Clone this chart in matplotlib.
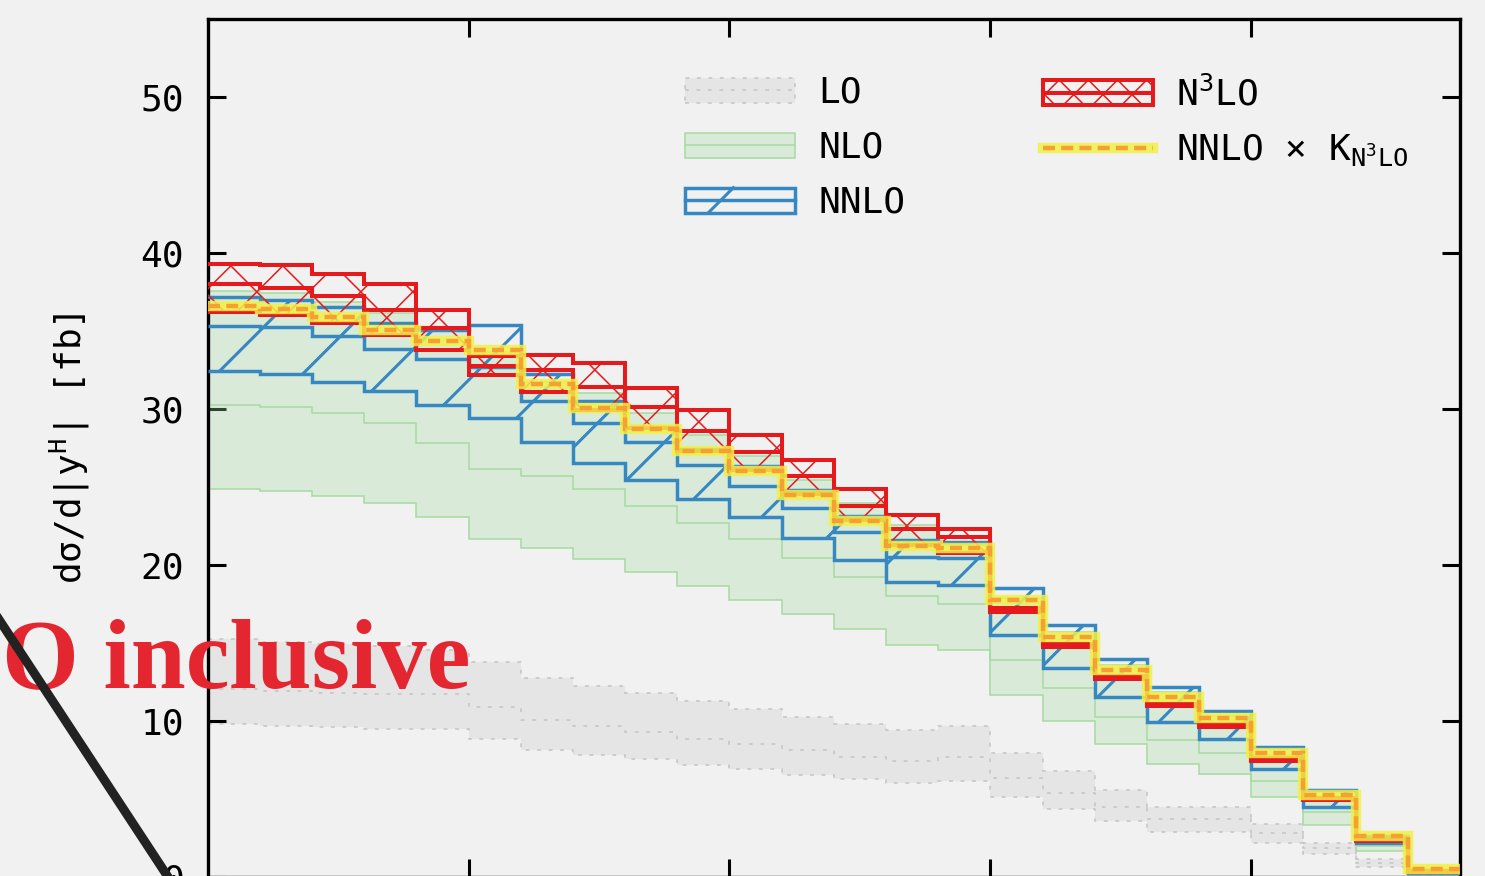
import numpy as np
import matplotlib
matplotlib.use("Agg")
import matplotlib.pyplot as plt
from matplotlib.collections import LineCollection
from matplotlib.patches import Rectangle
from matplotlib.lines import Line2D
from matplotlib.legend_handler import HandlerBase
from matplotlib.colors import to_rgba

# ----- data : dsigma/d|yH| [fb], bins of 0.1 in |yH| -----
edges = [0.0, 0.1, 0.2, 0.3, 0.4, 0.5, 0.6, 0.7, 0.8, 0.9, 1.0, 1.1, 1.2,
         1.3, 1.4, 1.5, 1.6, 1.7, 1.8, 1.9, 2.0, 2.1, 2.2, 2.3, 2.4]

lo_up = [15.22, 15.08, 14.95, 14.79, 14.53, 13.78, 12.72, 12.24, 11.79, 11.26, 10.77, 10.26,
         9.81, 9.42, 9.68, 7.95, 6.79, 5.56, 4.49, 4.49, 3.38, 2.18, 1.12, 0.43]
lo_mid = [12.01, 11.90, 11.81, 11.74, 11.71, 10.90, 10.03, 9.66, 9.26, 8.85, 8.49, 8.10,
          7.69, 7.44, 7.65, 6.31, 5.35, 4.45, 3.68, 3.68, 2.78, 1.82, 0.86, 0.30]
lo_dn = [9.79, 9.69, 9.60, 9.50, 9.45, 8.83, 8.12, 7.80, 7.53, 7.18, 6.88, 6.54,
         6.24, 6.03, 6.15, 5.09, 4.32, 3.59, 2.88, 2.88, 2.18, 1.46, 0.64, 0.14]

nlo_up = [37.56, 37.40, 36.86, 36.12, 35.24, 33.63, 31.71, 31.01, 29.72, 28.31, 26.97, 25.43,
          23.96, 22.54, 21.26, 17.87, 15.69, 13.57, 11.84, 10.30, 7.80, 5.04, 2.16, 0.24]
nlo_mid = [30.24, 30.11, 29.71, 29.10, 27.82, 26.12, 25.69, 24.83, 23.76, 22.69, 21.63, 20.46,
           19.21, 18.03, 17.48, 13.89, 12.08, 10.26, 8.76, 7.95, 6.13, 4.15, 1.97, 0.17]
nlo_dn = [24.85, 24.74, 24.42, 23.97, 23.04, 21.63, 21.09, 20.35, 19.51, 18.63, 17.74, 16.82,
          15.86, 14.85, 14.56, 11.65, 9.98, 8.49, 7.22, 6.58, 5.13, 3.31, 1.67, 0.11]

nnlo_up = [37.16, 37.01, 36.50, 35.51, 35.04, 35.37, 32.22, 30.53, 28.83, 27.42, 26.33, 24.79,
           23.12, 21.58, 21.47, 18.49, 16.13, 13.94, 12.18, 10.64, 8.33, 5.56, 2.61, 0.46]
nnlo_mid = [35.33, 35.22, 34.69, 33.87, 33.17, 32.69, 30.51, 29.12, 27.90, 26.39, 25.08, 23.62,
            22.13, 20.51, 20.41, 17.13, 14.82, 12.74, 11.01, 9.69, 7.51, 4.98, 2.31, 0.33]
nnlo_dn = [32.42, 32.22, 31.73, 31.13, 30.24, 29.44, 27.85, 26.55, 25.45, 24.23, 23.04, 21.69,
           20.28, 18.91, 18.70, 15.49, 13.36, 11.50, 9.90, 8.81, 6.88, 4.49, 2.16, 0.24]

n3lo_up = [39.32, 39.21, 38.63, 37.99, 36.33, 33.38, 33.47, 32.91, 31.31, 29.94, 28.31, 26.69,
           24.83, 23.19, 22.28, 17.20, 14.93, 12.86, 11.09, 9.77, 7.59, 5.06, 2.42, 0.37]
n3lo_mid = [37.99, 37.74, 37.22, 36.36, 35.21, 32.74, 32.48, 31.42, 30.11, 28.57, 27.21, 25.69,
            23.74, 22.29, 21.78, 17.10, 14.82, 12.77, 11.01, 9.69, 7.51, 4.98, 2.35, 0.33]
n3lo_dn = [36.22, 36.01, 35.51, 34.72, 33.76, 32.16, 31.09, 29.92, 28.76, 27.32, 26.07, 24.53,
           22.87, 21.26, 20.76, 16.99, 14.73, 12.68, 10.93, 9.62, 7.44, 4.91, 2.29, 0.30]

nnlo_k = [36.62, 36.42, 35.90, 35.06, 34.36, 33.78, 31.58, 30.08, 28.74, 27.33, 26.01, 24.47,
          22.78, 21.20, 21.05, 17.74, 15.38, 13.25, 11.54, 10.15, 7.93, 5.24, 2.64, 0.51]

xticks = [0.5, 1.0, 1.5, 2.0]
yticks = [0, 10, 20, 30, 40, 50]

# ----- style -----
BG = "#f1f1f1"
RED = "#e41a1c"
BLUE = "#3787c0"
GREEN = "#a6dba0"
GREY = "#c4c4c4"
YELLOW = "#f2f046"
ORANGE = "#f6a033"
MONO = "DejaVu Sans Mono"
FS = 26

plt.rcParams["font.family"] = MONO
plt.rcParams["mathtext.fontset"] = "custom"
plt.rcParams["mathtext.rm"] = MONO
plt.rcParams["mathtext.it"] = MONO
plt.rcParams["mathtext.bf"] = MONO


def band(ax, up, mid, dn, color, lw, ls, z, fill=None):
    face = to_rgba(fill[0], fill[1]) if fill else "none"
    clip = ax.stairs(up, edges, baseline=dn, fill=True, facecolor=face,
                     edgecolor="none", zorder=z)
    for v in (up, mid, dn):
        ax.stairs(v, edges, baseline=None, color=color, lw=lw, linestyle=ls,
                  zorder=z + 0.2)
    return clip


def hatch(ax, clip, spacing, dirs, color, lw, z, phase=0.0):
    # diagonal hatch lines in pixel space, clipped to the band
    bb = ax.bbox
    H = bb.height
    inv = ax.transData.inverted()
    segs = []
    for d in dirs:
        for c in np.arange(bb.x0 - H - spacing + phase, bb.x1 + spacing, spacing):
            if d == "/":
                p = [(c, bb.y0), (c + H, bb.y1)]
            else:
                p = [(c + H, bb.y0), (c, bb.y1)]
            segs.append(inv.transform(p))
    lc = LineCollection(segs, colors=color, linewidths=lw, zorder=z)
    ax.add_collection(lc, autolim=False)
    lc.set_clip_path(clip)


class Band:
    def __init__(self, face, edge, lw, ls, dirs="", spacing=1.0, phase=0.0, hlw=1.0):
        self.face, self.edge, self.lw, self.ls = face, edge, lw, ls
        self.dirs, self.spacing, self.phase, self.hlw = dirs, spacing, phase, hlw


def clip_seg(xa, ya, xb, yb, lo, hi):
    if xa > xb:
        xa, ya, xb, yb = xb, yb, xa, ya
    if xb < lo or xa > hi:
        return None
    t0 = max(0.0, (lo - xa) / (xb - xa))
    t1 = min(1.0, (hi - xa) / (xb - xa))
    return [xa + t0 * (xb - xa), xa + t1 * (xb - xa)], [ya + t0 * (yb - ya), ya + t1 * (yb - ya)]


class BandHandler(HandlerBase):
    def create_artists(self, legend, h, xdescent, ydescent, width, height, fontsize, trans):
        x0, y0 = -xdescent, -ydescent
        arts = [Rectangle((x0, y0), width, height, facecolor=h.face, edgecolor=h.edge,
                          lw=h.lw, linestyle=h.ls, transform=trans)]
        arts.append(Line2D([x0, x0 + width], [y0 + height / 2] * 2, color=h.edge,
                           lw=h.lw, linestyle=h.ls, transform=trans))
        for d in h.dirs:
            for k in range(-3, 12):
                tx = x0 + (h.phase + k * h.spacing) * width
                if d == "/":
                    seg = clip_seg(tx - height, y0, tx, y0 + height, x0, x0 + width)
                else:
                    seg = clip_seg(tx, y0 + height, tx + height, y0, x0, x0 + width)
                if seg:
                    arts.append(Line2D(seg[0], seg[1], color=h.edge, lw=h.hlw,
                                       transform=trans))
        return arts


# ----- figure -----
fig = plt.figure(figsize=(14.85, 8.76), dpi=100, facecolor=BG)
ax = fig.add_axes([0.13987, -0.0008, 0.84329, 0.97911])
ax.set_facecolor(BG)
ax.set_xlim(0, 2.4)
ax.set_ylim(0, 55)

band(ax, lo_up, lo_mid, lo_dn, GREY, 1.1, (0, (2.5, 5)), 1, fill=("#c8c8c8", 0.28))
band(ax, nlo_up, nlo_mid, nlo_dn, GREEN, 1.1, "-", 2, fill=(GREEN, 0.3))
clip_b = band(ax, nnlo_up, nnlo_mid, nnlo_dn, BLUE, 2.5, "-", 3)
hatch(ax, clip_b, 86, "/", BLUE, 2.2, 3.1, phase=20)
clip_r = band(ax, n3lo_up, n3lo_mid, n3lo_dn, RED, 2.9, "-", 4)
hatch(ax, clip_r, 52, "/\\", RED, 1.1, 4.1, phase=10)

ax.stairs(nnlo_k, edges, baseline=None, color=YELLOW, alpha=0.85, lw=7.5, zorder=5)
ax.stairs(nnlo_k, edges, baseline=None, color=ORANGE, lw=3.2,
          linestyle=(0, (2.7, 1.4)), zorder=5.1)

# ----- axes -----
ax.set_xticks(xticks)
ax.set_yticks(yticks)
ax.tick_params(direction="in", length=13, width=2.2, top=True, right=True,
               labelsize=FS, pad=17, labelbottom=False)
for s in ax.spines.values():
    s.set_linewidth(2.4)
ax.set_ylabel("dσ/d|y$^{\\mathrm{H}}$| [fb]", fontsize=FS)
ax.yaxis.set_label_coords(-0.0924, 0.5)

# ----- legend (two columns placed separately) -----
h_lo = Band(to_rgba("#c8c8c8", 0.28), GREY, 1.1, (0, (2.5, 5)))
h_nlo = Band(to_rgba(GREEN, 0.3), GREEN, 1.1, "-")
h_nnlo = Band("none", BLUE, 2.5, "-", dirs="/", spacing=5, phase=0.44, hlw=2.2)
h_n3lo = Band("none", RED, 2.9, "-", dirs="/\\", spacing=0.265, phase=0.147, hlw=1.1)
h_k = (Line2D([], [], color=YELLOW, alpha=0.85, lw=7.5),
       Line2D([], [], color=ORANGE, lw=3.2, linestyle=(0, (2.7, 1.4))))

common = dict(loc="upper left", frameon=False, fontsize=FS, borderpad=0,
              borderaxespad=0, handlelength=3.05, handleheight=0.69,
              handletextpad=0.64, labelspacing=0.58,
              handler_map={Band: BandHandler()})
leg1 = ax.legend([h_lo, h_nlo, h_nnlo], ["LO", "NLO", "NNLO"],
                 bbox_to_anchor=(0.3811, 0.9336), **common)
ax.add_artist(leg1)
ax.legend([h_n3lo, h_k], ["N$^{3}$LO", "NNLO × K$_{\\mathrm{N^{3}LO}}$"],
          bbox_to_anchor=(0.667, 0.9336), **common)

# ----- slide background pieces -----
fig.text(0.0013, 0.2161, "O inclusive", color="#e3262f", fontsize=71,
         fontweight="bold", family="Liberation Serif", va="baseline", ha="left",
         zorder=8)
fig.add_artist(Line2D([-0.004, 0.1145], [1 - 612 / 876, 1 - 880 / 876],
                      color="#222222", lw=6.5, transform=fig.transFigure, zorder=9))

fig.savefig("out.png", dpi=100, facecolor=BG)
